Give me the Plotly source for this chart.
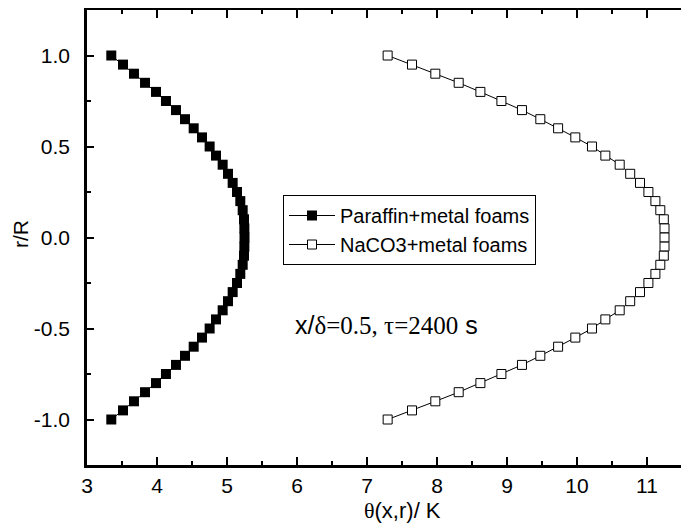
import plotly.graph_objects as go

# r/R positions (41 points, top to bottom)
r_over_R = [round(1.0 - 0.05 * i, 2) for i in range(41)]

# top half values (r/R = 1.0 ... 0.0); curves are symmetric
paraffin_top = [3.347, 3.514, 3.671, 3.829, 3.986, 4.128, 4.271, 4.400, 4.524, 4.643,
                4.752, 4.843, 4.938, 5.014, 5.081, 5.143, 5.190, 5.224, 5.243, 5.248, 5.250]
naco3_top = [7.295, 7.643, 7.976, 8.310, 8.620, 8.920, 9.214, 9.476, 9.730, 9.976,
             10.214, 10.405, 10.610, 10.760, 10.900, 11.020, 11.120, 11.190, 11.240, 11.250, 11.250]

paraffin = paraffin_top + paraffin_top[-2::-1]
naco3 = naco3_top + naco3_top[-2::-1]

series_names = ["Paraffin+metal foams", "NaCO3+metal foams"]
x_ticks = [3, 4, 5, 6, 7, 8, 9, 10, 11]
y_ticks = [-1.0, -0.5, 0.0, 0.5, 1.0]
y_tick_labels = ["-1.0", "-0.5", "0.0", "0.5", "1.0"]

SANS = "Liberation Sans, Arial, sans-serif"
SERIF = "Liberation Serif"

# page body has an 8px default margin; figure is sized so the plot lands
# at window pixels x 87..689, y 10..465
OFF = 8
PL, PT, PB = 87, 10, 465
PW, PH = 689 - PL, PB - PT

fig = go.Figure()
fig.add_trace(go.Scatter(
    x=paraffin, y=r_over_R, mode="lines+markers", name=series_names[0],
    line=dict(color="black", width=1),
    marker=dict(symbol="square", size=10, color="black", line=dict(width=0)),
))
fig.add_trace(go.Scatter(
    x=naco3, y=r_over_R, mode="lines+markers", name=series_names[1],
    line=dict(color="black", width=1),
    marker=dict(symbol="square", size=9, color="white", line=dict(color="black", width=1)),
))

fig.update_layout(
    width=689 - OFF, height=531 - OFF,
    margin=dict(l=PL - OFF, r=0, t=PT - OFF, b=531 - PB),
    paper_bgcolor="white", plot_bgcolor="white",
    font=dict(family=SANS, size=21, color="black"),
    showlegend=True,
    legend=dict(
        x=(283 - PL) / PW, y=(PB - 195) / PH, xanchor="left", yanchor="top",
        bordercolor="black", borderwidth=1, bgcolor="white",
        font=dict(family=SANS, size=20, color="black"),
        tracegroupgap=0, itemwidth=46,
    ),
)

fig.update_xaxes(
    range=[3, 11.6], tickvals=x_ticks, ticktext=[str(v) for v in x_ticks],
    showline=True, linecolor="black", linewidth=2.5, mirror="ticks",
    ticks="inside", ticklen=8, tickwidth=2, tickcolor="black",
    minor=dict(dtick=0.5, ticks="inside", ticklen=4, tickwidth=2, tickcolor="black"),
    showgrid=False, zeroline=False, ticklabelstandoff=0,
    tickfont=dict(family=SANS, size=21),
)
fig.update_yaxes(
    range=[-1.25, 1.25], tickvals=y_ticks, ticktext=y_tick_labels,
    showline=True, linecolor="black", linewidth=2.5, mirror=False,
    ticks="inside", ticklen=7, tickwidth=2, tickcolor="black",
    minor=dict(dtick=0.25, ticks="inside", ticklen=4, tickwidth=2, tickcolor="black"),
    showgrid=False, zeroline=False, ticklabelstandoff=10,
    tickfont=dict(family=SANS, size=21),
)

# axis titles
fig.add_annotation(
    text=f'<span style="font-family:{SERIF}">θ</span>(x,r)/ K',
    xref="paper", yref="paper", x=(402 - PL) / PW, y=(PB - 510) / PH,
    xanchor="center", yanchor="middle", showarrow=False,
    font=dict(family=SANS, size=22, color="black"),
)
fig.add_annotation(
    text="r/R", textangle=-90,
    xref="paper", yref="paper", x=(20 - PL) / PW, y=(PB - 234) / PH,
    xanchor="center", yanchor="middle", showarrow=False,
    font=dict(family=SANS, size=21, color="black"),
)
# condition annotation
fig.add_annotation(
    text=f'x/<span style="font-family:{SERIF}">δ=0.5, τ=2400</span> s',
    xref="x", yref="y", x=3 + (293 - PL) / 70, y=(237.7 - 325) / 182,
    xanchor="left", yanchor="middle", showarrow=False,
    font=dict(family=SANS, size=25, color="black"),
)

fig.write_html("out.html")
